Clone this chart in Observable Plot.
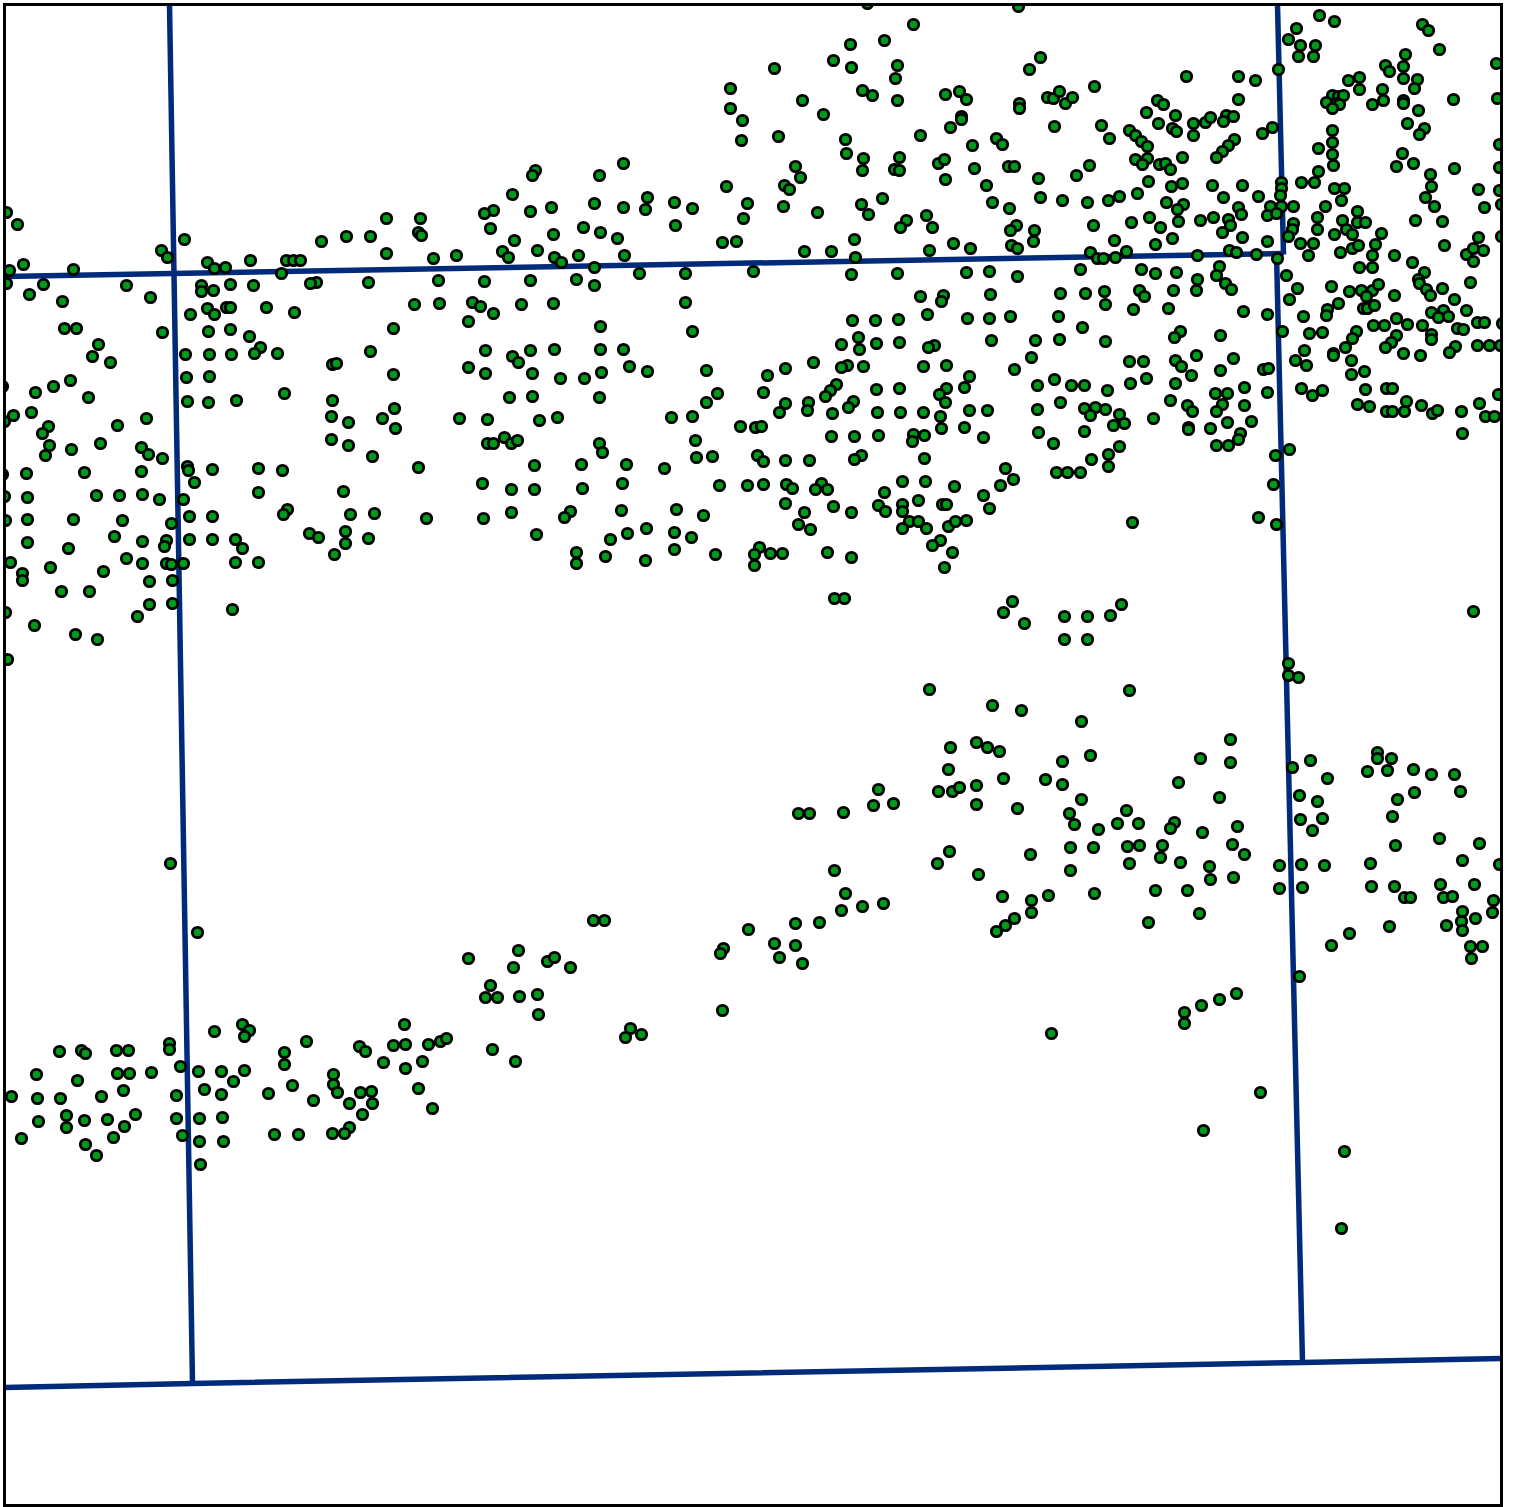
<!DOCTYPE html>
<html>
<head>
<meta charset="utf-8">
<script src="https://cdn.jsdelivr.net/npm/d3@7"></script>
<script src="https://cdn.jsdelivr.net/npm/@observablehq/plot@0.6"></script>
<style>html,body{margin:0;padding:0;background:#fff}svg{display:block}</style>
</head>
<body>
<div id="chart"></div>
<script>
const upperWest = [[6,212],[17,224],[23,264],[9,270],[73,269],[6,283],[43,284],[29,294],[62,301],[126,285],[150,297],[161,250],[167,257],[184,239],[207,262],[214,268],[225,267],[250,260],[286,260],[293,260],[300,260],[281,273],[321,241],[346,236],[316,282],[310,283],[201,285],[201,291],[213,290],[230,284],[253,285],[190,314],[207,308],[214,314],[226,307],[230,307],[266,307],[294,312],[64,328],[76,328],[98,344],[92,356],[110,362],[162,332],[208,331],[230,329],[249,336],[260,347],[254,353],[277,353],[185,354],[209,354],[231,354],[332,364],[336,363],[186,377],[209,376],[70,380],[53,386],[35,392],[88,397],[187,401],[208,402],[236,400],[284,393],[332,400],[331,416],[348,422],[331,439],[348,445],[2,386],[31,412],[13,415],[4,421],[146,418],[117,425],[48,426],[42,433],[49,445],[45,455],[71,449],[100,443],[141,447],[148,454],[162,458],[187,466],[188,470],[212,469],[258,468],[282,470],[26,473],[84,472],[141,471],[2,474]];
const midWest = [[194,482],[258,492],[343,491],[287,509],[283,514],[350,514],[4,496],[27,497],[96,495],[119,495],[142,494],[159,499],[183,499],[5,520],[27,519],[73,519],[122,520],[171,523],[189,516],[212,516],[114,536],[27,542],[142,541],[166,540],[164,546],[189,539],[212,539],[235,539],[242,548],[68,548],[309,533],[318,537],[345,531],[345,543],[334,554],[10,562],[50,567],[126,558],[103,571],[142,563],[166,563],[171,564],[183,563],[235,562],[258,562],[22,573],[22,580],[149,581],[172,580],[61,591],[89,591],[149,604],[172,603],[5,612],[137,616],[232,609],[34,625],[75,634],[97,639],[7,659]];
const upperCentral = [[623,163],[599,175],[535,170],[532,175],[512,194],[647,197],[594,203],[623,207],[645,209],[674,202],[692,208],[675,225],[530,211],[551,207],[493,210],[484,213],[490,228],[386,218],[420,218],[418,232],[421,235],[370,236],[583,227],[553,234],[600,232],[617,238],[514,240],[386,253],[502,251],[508,257],[537,250],[554,257],[561,262],[578,255],[624,255],[433,258],[456,255],[594,267],[639,273],[685,273],[368,282],[438,280],[484,281],[530,280],[576,279],[594,285],[414,304],[439,303],[472,302],[480,306],[493,313],[521,304],[553,303],[685,302],[468,321],[393,328],[600,326],[692,331],[370,351],[485,350],[512,356],[518,362],[530,350],[554,349],[600,349],[623,349],[629,366],[647,371],[468,367],[485,373],[393,374],[532,373],[560,378],[584,378],[601,372],[509,397],[532,396],[599,397],[394,408],[382,418],[395,428],[459,418],[487,419],[539,420],[557,417],[671,417],[692,416],[695,440],[504,437],[487,443],[493,443],[511,443],[517,440],[599,443]];
const midCentral = [[372,456],[418,467],[482,483],[534,465],[581,464],[602,452],[626,464],[664,468],[696,457],[511,489],[534,489],[582,488],[622,483],[621,510],[676,509],[374,513],[426,518],[483,518],[511,512],[570,511],[564,517],[368,538],[536,534],[627,533],[646,528],[674,532],[691,537],[610,539],[576,552],[576,563],[605,556],[645,560],[674,549]];
const northEast = [[867,3],[1018,6],[913,24],[884,40],[850,44],[833,60],[851,67],[774,68],[897,65],[895,78],[1040,57],[1029,69],[730,88],[730,108],[742,120],[741,140],[802,100],[823,114],[862,90],[872,95],[897,100],[945,94],[959,91],[966,99],[1019,103],[1019,108],[1047,97],[1053,98],[1059,91],[1065,103],[1072,97],[1094,86],[1054,126],[961,116],[961,119],[950,127],[920,135],[778,136],[845,139],[846,153],[972,145],[996,138],[1002,144],[863,158],[862,170],[899,157],[894,169],[899,170],[938,163],[944,159],[974,168],[1008,166],[1014,166],[1089,165],[1076,175],[1038,178],[945,179],[795,166],[800,177],[784,185],[789,189],[726,186],[986,185],[1040,197],[1062,200],[1087,202],[992,202],[1009,208],[747,203],[743,218],[783,206],[817,212],[861,204],[868,214],[882,198],[906,220],[900,227],[926,215],[932,227],[1016,225],[1010,230],[1034,230],[1093,225],[1033,241],[1011,245],[1017,248],[854,239],[722,242],[736,241],[804,251],[831,251],[855,257],[929,250],[953,243],[970,248],[1090,252],[1097,258],[753,271],[851,274],[897,273],[966,272],[989,271],[1017,276],[1080,269],[920,296],[943,295],[941,301],[990,294],[1060,293],[1085,293]];
const centralEast = [[852,320],[875,320],[898,319],[927,314],[967,318],[989,318],[1010,316],[1058,316],[1082,327],[1059,339],[1035,340],[991,340],[858,337],[859,349],[841,344],[876,343],[899,342],[934,345],[928,347],[1031,357],[1014,369],[813,362],[785,368],[767,375],[706,370],[847,365],[841,367],[863,366],[923,366],[946,365],[969,376],[1054,379],[1037,385],[1071,385],[1084,385],[946,388],[964,387],[939,394],[945,402],[876,389],[899,388],[836,384],[830,390],[825,396],[763,392],[717,393],[706,402],[785,403],[808,402],[807,410],[779,412],[832,413],[853,401],[848,407],[877,412],[900,412],[923,412],[969,410],[987,410],[940,416],[1060,402],[1037,409],[1084,408],[1095,407],[1090,415],[1084,431],[1038,432],[1053,443],[740,426],[755,427],[761,426],[941,428],[964,427],[983,437],[831,436],[854,436],[878,435],[913,434],[924,435],[912,441],[712,456],[757,455],[763,461],[785,460],[809,460],[861,455],[854,459],[924,458],[1091,459],[1056,472],[1067,472],[1080,472],[1005,468],[1013,479],[1000,485],[983,495],[989,508],[902,481],[925,481],[954,486],[884,492],[918,500],[942,504],[946,504],[878,505],[885,511],[902,504],[902,511],[909,521],[918,521],[902,528],[926,528],[948,526],[955,521],[966,520],[940,540],[932,545],[952,552],[944,567],[719,485],[747,485],[763,484],[786,484],[792,488],[821,483],[815,489],[827,489],[785,503],[804,512],[798,524],[810,529],[833,506],[851,512],[703,515],[759,547],[754,554],[754,565],[770,553],[782,553],[715,554],[827,552],[851,557],[834,598],[844,598]];
const farNorthEast = [[1319,15],[1334,21],[1296,28],[1288,39],[1300,45],[1315,45],[1298,56],[1313,56],[1278,69],[1186,76],[1238,76],[1255,80],[1422,24],[1428,30],[1439,49],[1405,54],[1496,63],[1385,65],[1389,71],[1403,66],[1403,78],[1417,79],[1414,88],[1348,80],[1359,77],[1359,89],[1382,89],[1383,100],[1372,104],[1403,100],[1403,103],[1418,110],[1453,99],[1497,98],[1332,95],[1338,96],[1343,95],[1326,102],[1336,103],[1339,104],[1332,108],[1238,99],[1157,100],[1163,104],[1146,112],[1175,115],[1158,123],[1172,128],[1176,131],[1193,123],[1193,135],[1205,122],[1210,117],[1226,115],[1223,121],[1233,116],[1272,127],[1262,133],[1101,125],[1109,138],[1129,130],[1135,135],[1141,141],[1147,146],[1332,130],[1332,142],[1332,154],[1333,165],[1318,148],[1318,171],[1407,123],[1424,128],[1419,134],[1499,144],[1402,153],[1413,163],[1396,166],[1454,168],[1499,167],[1430,174],[1431,186],[1425,197],[1434,206],[1478,189],[1499,190],[1484,207],[1501,204],[1234,139],[1228,145],[1222,151],[1216,157],[1182,157],[1135,159],[1147,158],[1142,164],[1159,164],[1165,163],[1170,169],[1148,181],[1171,186],[1182,183],[1212,185],[1242,185],[1223,197],[1258,196],[1137,193],[1119,196],[1108,200],[1166,202],[1183,204],[1177,209],[1270,206],[1238,207],[1281,182],[1281,188],[1280,195],[1281,206],[1293,206],[1301,182],[1314,182],[1334,188],[1344,188],[1341,200],[1325,206],[1357,211]];
const eastBand = [[1149,217],[1131,222],[1160,227],[1178,221],[1200,220],[1213,217],[1228,219],[1230,225],[1222,232],[1241,214],[1242,237],[1267,215],[1276,213],[1267,241],[1172,238],[1155,244],[1114,240],[1126,251],[1103,258],[1115,257],[1197,255],[1229,250],[1236,252],[1256,254],[1277,258],[1293,223],[1292,229],[1288,236],[1317,217],[1317,229],[1342,220],[1346,229],[1352,234],[1357,222],[1365,222],[1334,234],[1381,233],[1415,220],[1442,221],[1478,237],[1444,245],[1501,236],[1300,243],[1313,243],[1308,255],[1340,252],[1352,248],[1358,245],[1375,244],[1372,255],[1359,267],[1372,267],[1394,255],[1412,262],[1466,254],[1473,248],[1483,250],[1473,261],[1424,272],[1418,279],[1419,283],[1426,289],[1430,295],[1442,288],[1470,282],[1454,299],[1141,269],[1155,273],[1176,272],[1197,279],[1219,266],[1216,275],[1225,283],[1231,289],[1196,290],[1173,290],[1139,290],[1144,296],[1104,291],[1105,304],[1133,309],[1168,308],[1243,311],[1267,314],[1286,275],[1297,288],[1289,299],[1331,286],[1349,291],[1361,290],[1372,290],[1378,284],[1366,296],[1394,295],[1338,303],[1327,309],[1326,315],[1303,316],[1363,308],[1367,308],[1374,305],[1431,312],[1443,310],[1438,317],[1448,316],[1466,310],[1396,318],[1407,324],[1422,325],[1384,325],[1373,325],[1477,322],[1484,322],[1502,323],[1457,328],[1463,329],[1282,331],[1309,333],[1322,332],[1356,331],[1352,338],[1396,335],[1391,342],[1385,347],[1345,347],[1333,353],[1333,355],[1431,334],[1431,339],[1455,346],[1449,352],[1477,345],[1489,345],[1500,345],[1403,353],[1420,355],[1180,331],[1174,337],[1220,335],[1105,341],[1196,355],[1233,358],[1129,361],[1143,361],[1175,360],[1181,366],[1191,375],[1220,370],[1263,369],[1268,368],[1146,378],[1130,383],[1175,383],[1107,390],[1244,387],[1215,393],[1227,393],[1267,392],[1304,350],[1295,360],[1306,365],[1351,360],[1364,371],[1351,374],[1301,388],[1312,395],[1322,390],[1365,389],[1386,388],[1392,388],[1357,404],[1369,406],[1386,411],[1392,411],[1404,411],[1406,401],[1421,405],[1432,413],[1437,410],[1461,411],[1479,403],[1485,416],[1494,416],[1462,433],[1498,394],[1105,409],[1119,414],[1124,423],[1113,425],[1153,418],[1170,400],[1187,405],[1192,411],[1222,404],[1216,411],[1244,405],[1227,422],[1251,421],[1188,427],[1188,429],[1210,428],[1240,433],[1238,439],[1119,446],[1108,454],[1108,466],[1216,445],[1228,445],[1289,449],[1275,455],[1273,484],[1132,522],[1258,517],[1276,524]];
const lowerEast = [[1012,601],[1003,612],[1024,623],[1064,616],[1087,616],[1110,615],[1121,604],[1064,639],[1087,639],[1473,611],[1288,663],[1288,675],[1298,677],[929,689],[1129,690],[992,705],[1021,710],[1081,721],[1230,739],[950,747],[976,742],[987,747],[999,751],[1090,755],[1062,761],[1200,758],[1230,762],[1292,767],[1310,760],[1327,778],[1377,752],[1377,758],[1391,758],[1367,771],[1387,770],[1413,769],[1431,774],[1454,774],[1460,791],[1414,792],[1397,799],[948,769],[1003,778],[1045,779],[1062,784],[1178,782],[938,791],[952,791],[959,787],[976,785],[976,804],[1017,808],[1081,799],[1219,797],[1299,795],[1317,801],[1300,819],[1322,818],[1312,830],[1392,816],[1069,813],[1074,824],[1098,829],[1117,823],[1126,810],[1138,823],[1174,822],[1170,828],[1202,832],[1237,826],[1395,845],[1439,838],[1479,843],[1070,847],[1093,847],[1127,846],[1139,845],[1162,845],[1160,857],[1232,844],[1244,854],[1180,862],[1209,866],[1210,879],[1233,877],[1129,863],[1070,870],[1030,854],[949,851],[937,863],[978,874],[1279,865],[1301,864],[1324,865],[1370,863],[1462,860],[1499,864],[1279,888],[1302,887],[1371,886],[1394,886],[1440,884],[1474,884],[1404,897],[1410,897],[1443,897],[1452,896],[1493,900],[1492,912],[1462,911],[1461,921],[1462,930],[1475,918],[1446,925],[1389,926],[1349,933],[1331,945],[1470,946],[1482,946],[1471,958],[1299,976],[1048,895],[1002,896],[1031,900],[1031,912],[1014,918],[1005,925],[996,931],[1094,893],[1155,890],[1187,890],[1148,922],[1199,913],[1236,993],[1219,999],[1201,1005],[1184,1012],[1184,1023],[1051,1033],[1260,1092],[1203,1130],[1344,1151],[1341,1228]];
const lowerMiddle = [[170,863],[197,932],[843,812],[798,813],[809,813],[878,789],[873,805],[893,803],[834,870],[845,893],[862,906],[883,903],[841,910],[819,922],[795,923],[748,929],[723,948],[720,953],[774,943],[795,945],[779,957],[802,963],[722,1010],[630,1028],[625,1037],[641,1034],[593,920],[604,920],[468,958],[490,985],[518,950],[513,967],[547,961],[554,957],[570,967],[485,997],[497,997],[519,996],[537,994],[538,1014],[492,1049],[515,1061]];
const lowerWest = [[59,1051],[81,1050],[85,1053],[116,1050],[128,1050],[169,1043],[169,1049],[214,1031],[242,1024],[249,1030],[244,1036],[306,1041],[284,1052],[284,1064],[359,1046],[365,1051],[404,1024],[393,1045],[405,1044],[428,1044],[440,1041],[446,1038],[383,1062],[422,1061],[405,1068],[418,1088],[432,1108],[36,1074],[77,1080],[117,1073],[129,1073],[151,1072],[180,1066],[198,1071],[221,1071],[244,1070],[233,1081],[204,1089],[221,1094],[176,1095],[123,1090],[101,1096],[60,1098],[37,1098],[11,1096],[268,1093],[292,1085],[313,1100],[333,1074],[333,1084],[337,1092],[360,1092],[371,1091],[372,1103],[349,1103],[362,1114],[349,1127],[344,1133],[332,1133],[298,1134],[274,1134],[135,1114],[124,1126],[113,1137],[107,1119],[84,1120],[66,1115],[66,1127],[38,1121],[21,1138],[85,1144],[96,1155],[176,1118],[199,1118],[222,1117],[182,1135],[199,1141],[223,1141],[200,1164]];

const roadWest = [[169,4],[192,1383]];
const roadEastUpper = [[1277,4],[1283,254]];
const roadEastLower = [[1276,253],[1302,1362]];
const roadNorth = [[4,276],[1283,253]];
const roadSouth = [[4,1387],[192,1383],[1302,1362],[1501,1358]];

const sites = [...upperWest, ...midWest, ...upperCentral, ...midCentral, ...northEast, ...centralEast, ...farNorthEast, ...eastBand, ...lowerEast, ...lowerMiddle, ...lowerWest];
const roads = [roadWest, roadEastUpper, roadEastLower, roadNorth, roadSouth];
const roadColor = "#002a7a";
const lineOpts = {x: d => d[0], y: d => d[1], stroke: roadColor, strokeWidth: 5.5, clip: "frame", strokeLinecap: "butt", strokeLinejoin: "miter", curve: "linear"};

const chart = Plot.plot({
  width: 1514,
  height: 1507,
  marginLeft: 4,
  marginRight: 13,
  marginTop: 4,
  marginBottom: 2,
  x: {domain: [4, 1501], axis: null},
  y: {domain: [1505, 4], axis: null},
  marks: [
    ...roads.map(r => Plot.line(r, lineOpts)),
    Plot.dot(sites, {x: d => d[0], y: d => d[1], r: 5.2, fill: "#009a1a", stroke: "#000", strokeWidth: 2.8, clip: "frame"}),
    Plot.frame({stroke: "#000", strokeWidth: 3})
  ]
});
document.getElementById("chart").appendChild(chart);
</script>
</body>
</html>
